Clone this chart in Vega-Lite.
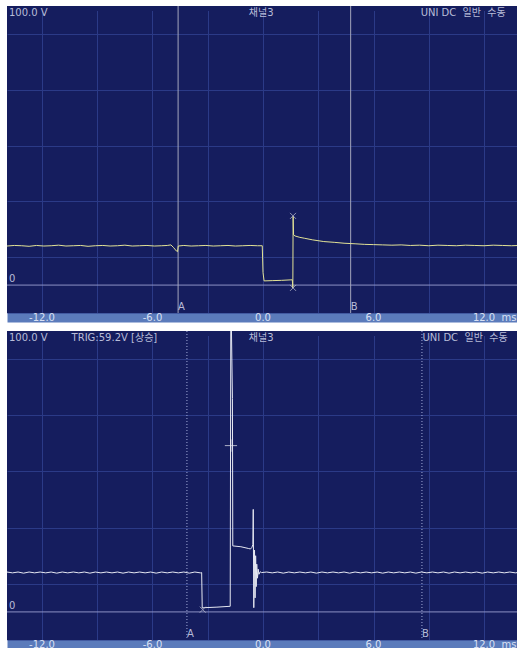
{
  "$schema": "https://vega.github.io/schema/vega-lite/v6.json",
  "padding": {"left": 6, "top": 5, "right": 0, "bottom": 0},
  "spacing": 7,
  "background": "#ffffff",
  "config": {
    "view": {"fill": "#151d5e", "stroke": null},
    "axisX": {"orient": "bottom", "grid": true, "gridColor": "#2b3a87", "gridWidth": 1,
      "ticks": false, "tickSize": 0, "domain": true, "domainColor": "#5b7bbb", "domainWidth": 9, "offset": 4.5,
      "labels": false, "minExtent": 0},
    "axisY": {"grid": true, "gridColor": "#2b3a87", "gridWidth": 1, "labels": false, "ticks": false, "domain": false, "minExtent": 0},
    "text": {"font": "DejaVu Sans, Noto Sans CJK KR", "fontSize": 10}
  },
  "datasets": {
    "sig1": [
      {"t": -13.9, "v": 14.0}, {"t": -13.5, "v": 14.2}, {"t": -13.1, "v": 14.1}, {"t": -12.7, "v": 13.9},
      {"t": -12.3, "v": 14.2}, {"t": -11.9, "v": 14.0}, {"t": -11.5, "v": 14.1}, {"t": -11.1, "v": 14.3},
      {"t": -10.7, "v": 14.0}, {"t": -10.3, "v": 14.1}, {"t": -9.9, "v": 14.2}, {"t": -9.5, "v": 13.9},
      {"t": -9.1, "v": 14.1}, {"t": -8.7, "v": 14.2}, {"t": -8.3, "v": 14.0}, {"t": -7.9, "v": 14.1},
      {"t": -7.5, "v": 14.3}, {"t": -7.1, "v": 14.0}, {"t": -6.7, "v": 14.1}, {"t": -6.3, "v": 14.2},
      {"t": -5.9, "v": 14.0}, {"t": -5.5, "v": 14.1}, {"t": -5.2, "v": 14.2}, {"t": -5.0, "v": 14.4},
      {"t": -4.85, "v": 13.4}, {"t": -4.7, "v": 12.2}, {"t": -4.64, "v": 12.0}, {"t": -4.6, "v": 14.0},
      {"t": -4.3, "v": 14.2}, {"t": -3.9, "v": 14.0}, {"t": -3.5, "v": 14.1}, {"t": -3.1, "v": 14.2},
      {"t": -2.7, "v": 14.0}, {"t": -2.3, "v": 14.1}, {"t": -1.9, "v": 14.2}, {"t": -1.5, "v": 14.0},
      {"t": -1.1, "v": 14.1}, {"t": -0.7, "v": 14.2}, {"t": -0.3, "v": 14.1}, {"t": -0.04, "v": 14.1},
      {"t": 0.0, "v": 4.5}, {"t": 0.06, "v": 1.5}, {"t": 0.5, "v": 1.6}, {"t": 1.0, "v": 1.7},
      {"t": 1.59, "v": 1.9}, {"t": 1.62, "v": -1.0}, {"t": 1.635, "v": 24.6}, {"t": 1.66, "v": 18.0},
      {"t": 1.74, "v": 17.6}, {"t": 2.0, "v": 17.1}, {"t": 2.24, "v": 16.8}, {"t": 2.7, "v": 16.2},
      {"t": 3.3, "v": 15.6}, {"t": 3.9, "v": 15.3}, {"t": 4.4, "v": 15.0}, {"t": 5.0, "v": 14.8},
      {"t": 5.5, "v": 14.6}, {"t": 6.0, "v": 14.5}, {"t": 6.5, "v": 14.4}, {"t": 7.0, "v": 14.3},
      {"t": 7.5, "v": 14.4}, {"t": 8.0, "v": 14.2}, {"t": 8.5, "v": 14.3}, {"t": 9.0, "v": 14.1},
      {"t": 9.5, "v": 14.3}, {"t": 10.0, "v": 14.2}, {"t": 10.5, "v": 14.1}, {"t": 11.0, "v": 14.3},
      {"t": 11.5, "v": 14.2}, {"t": 12.0, "v": 14.1}, {"t": 12.5, "v": 14.3}, {"t": 13.0, "v": 14.2},
      {"t": 13.5, "v": 14.1}, {"t": 13.9, "v": 14.2}
    ],
    "sig2": [
      {"t": -13.9, "v": 14.2}, {"t": -13.6, "v": 13.9}, {"t": -13.3, "v": 14.2}, {"t": -13.0, "v": 13.8},
      {"t": -12.7, "v": 14.2}, {"t": -12.4, "v": 13.9}, {"t": -12.1, "v": 14.2}, {"t": -11.8, "v": 13.9},
      {"t": -11.5, "v": 14.2}, {"t": -11.2, "v": 13.8}, {"t": -10.9, "v": 14.2}, {"t": -10.6, "v": 13.9},
      {"t": -10.3, "v": 14.2}, {"t": -10.0, "v": 13.9}, {"t": -9.7, "v": 14.2}, {"t": -9.4, "v": 13.8},
      {"t": -9.1, "v": 14.2}, {"t": -8.8, "v": 13.9}, {"t": -8.5, "v": 14.2}, {"t": -8.2, "v": 13.9},
      {"t": -7.9, "v": 14.2}, {"t": -7.6, "v": 13.8}, {"t": -7.3, "v": 14.2}, {"t": -7.0, "v": 13.9},
      {"t": -6.7, "v": 14.2}, {"t": -6.4, "v": 13.9}, {"t": -6.1, "v": 14.2}, {"t": -5.8, "v": 13.8},
      {"t": -5.5, "v": 14.2}, {"t": -5.2, "v": 13.9}, {"t": -4.9, "v": 14.2}, {"t": -4.6, "v": 13.9},
      {"t": -4.3, "v": 14.2}, {"t": -4.0, "v": 13.8}, {"t": -3.7, "v": 14.2}, {"t": -3.4, "v": 13.9},
      {"t": -3.33, "v": 14.0}, {"t": -3.3, "v": 1.4}, {"t": -3.2, "v": 1.5}, {"t": -2.5, "v": 1.7},
      {"t": -1.78, "v": 2.0}, {"t": -1.745, "v": 115}, {"t": -1.66, "v": 76}, {"t": -1.64, "v": 23.5},
      {"t": -1.2, "v": 23.2}, {"t": -0.8, "v": 22.6}, {"t": -0.68, "v": 22.4}, {"t": -0.6, "v": 23.0},
      {"t": -0.55, "v": 24.0}, {"t": -0.53, "v": 36.5}, {"t": -0.5, "v": 1.5}, {"t": -0.46, "v": 22.0},
      {"t": -0.43, "v": 5.0}, {"t": -0.4, "v": 20.0}, {"t": -0.37, "v": 9.0}, {"t": -0.34, "v": 17.0},
      {"t": -0.3, "v": 12.0}, {"t": -0.26, "v": 15.2}, {"t": -0.22, "v": 13.4}, {"t": -0.15, "v": 14.3},
      {"t": -0.08, "v": 14.0}, {"t": 0.2, "v": 14.2}, {"t": 0.5, "v": 13.9}, {"t": 0.8, "v": 14.2},
      {"t": 1.1, "v": 13.8}, {"t": 1.4, "v": 14.2}, {"t": 1.7, "v": 13.9}, {"t": 2.0, "v": 14.2},
      {"t": 2.3, "v": 13.9}, {"t": 2.6, "v": 14.2}, {"t": 2.9, "v": 13.8}, {"t": 3.2, "v": 14.2},
      {"t": 3.5, "v": 13.9}, {"t": 3.8, "v": 14.2}, {"t": 4.1, "v": 13.9}, {"t": 4.4, "v": 14.2},
      {"t": 4.7, "v": 13.8}, {"t": 5.0, "v": 14.2}, {"t": 5.3, "v": 13.9}, {"t": 5.6, "v": 14.2},
      {"t": 5.9, "v": 13.9}, {"t": 6.2, "v": 14.2}, {"t": 6.5, "v": 13.8}, {"t": 6.8, "v": 14.2},
      {"t": 7.1, "v": 13.9}, {"t": 7.4, "v": 14.2}, {"t": 7.7, "v": 13.9}, {"t": 8.0, "v": 14.2},
      {"t": 8.3, "v": 13.8}, {"t": 8.6, "v": 14.2}, {"t": 8.9, "v": 13.9}, {"t": 9.2, "v": 14.2},
      {"t": 9.5, "v": 13.9}, {"t": 9.8, "v": 14.2}, {"t": 10.1, "v": 13.8}, {"t": 10.4, "v": 14.2},
      {"t": 10.7, "v": 13.9}, {"t": 11.0, "v": 14.2}, {"t": 11.3, "v": 13.9}, {"t": 11.6, "v": 14.2},
      {"t": 11.9, "v": 13.8}, {"t": 12.2, "v": 14.2}, {"t": 12.5, "v": 13.9}, {"t": 12.8, "v": 14.2},
      {"t": 13.1, "v": 13.9}, {"t": 13.4, "v": 14.2}, {"t": 13.7, "v": 13.9}, {"t": 13.9, "v": 14.1}
    ],
    "cur1": [{"t": -4.61, "label": "A"}, {"t": 4.76, "label": "B"}],
    "cur2": [{"t": -4.13, "label": "A"}, {"t": 8.63, "label": "B"}],
    "mark1": [{"t": 1.63, "v": 24.8}, {"t": 1.63, "v": -1.0}],
    "mark2": [{"t": -3.27, "v": 0.8}],
    "cross2": [{"t": -1.74, "v": 59.2}],
    "zero": [{"t": -13.9, "v": 0, "label": "0"}],
    "xlab": [
      {"t": -12, "v": -10, "label": "-12.0"}, {"t": -6, "v": -10, "label": "-6.0"}, {"t": 0, "v": -10, "label": "0.0"},
      {"t": 6, "v": -10, "label": "6.0"}, {"t": 12, "v": -10, "label": "12.0"}
    ],
    "unit": [{"t": 12.95, "v": -10, "label": "ms"}],
    "txt1": [
      {"t": -13.9, "v": 100, "label": "100.0 V"},
      {"t": 8.45, "v": 100, "label": "UNI DC \u00a0일반 \u00a0수동"}
    ],
    "txt2": [
      {"t": -13.9, "v": 100, "label": "100.0 V"},
      {"t": -10.5, "v": 100, "label": "TRIG:59.2V [상승]"},
      {"t": 8.55, "v": 100, "label": "UNI DC \u00a0일반 \u00a0수동"}
    ],
    "ctr": [{"t": -0.1, "v": 100, "label": "채널3"}]
  },
  "vconcat": [
    {
      "width": 512,
      "height": 307,
      "layer": [
        {
          "data": {"name": "zero"},
          "mark": {"type": "rule", "color": "#8c92c4", "strokeWidth": 1},
          "encoding": {"y": {"field": "v", "type": "quantitative", "title": null, "scale": {"domain": [-10, 100], "nice": false, "zero": false}}}
        },
        {
          "data": {"name": "cur1"},
          "mark": {"type": "rule", "color": "#a4a6bc", "strokeWidth": 1},
          "encoding": {"x": {"field": "t", "type": "quantitative", "title": null, "scale": {"domain": [-13.9, 13.9], "nice": false, "zero": false}}}
        },
        {
          "data": {"name": "sig1"},
          "mark": {"type": "line", "color": "#e2e296", "strokeWidth": 1, "clip": true},
          "encoding": {
            "x": {"field": "t", "type": "quantitative", "sort": null, "title": null, "scale": {"domain": [-13.9, 13.9], "nice": false, "zero": false},
              "axis": {"values": [-12, -9, -6, -3, 0, 3, 6, 9, 12]}},
            "y": {"field": "v", "type": "quantitative", "title": null, "scale": {"domain": [-10, 100], "nice": false, "zero": false},
              "axis": {"values": [-10, 0, 10, 20, 30, 40, 50, 60, 70, 80, 90, 100]}}
          }
        },
        {
          "data": {"name": "mark1"},
          "mark": {"type": "point", "shape": "M-1,-1L1,1M-1,1L1,-1", "filled": false, "color": "#c8cad8", "strokeWidth": 1, "size": 36},
          "encoding": {
            "x": {"field": "t", "type": "quantitative", "title": null},
            "y": {"field": "v", "type": "quantitative", "title": null}
          }
        },
        {
          "data": {"name": "cur1"},
          "mark": {"type": "text", "align": "left", "baseline": "bottom", "dy": -1, "color": "#b8bcd8"},
          "encoding": {
            "x": {"field": "t", "type": "quantitative", "title": null},
            "y": {"datum": -10, "type": "quantitative", "title": null},
            "text": {"field": "label"}
          }
        },
        {
          "data": {"name": "zero"},
          "mark": {"type": "text", "align": "left", "baseline": "bottom", "dx": 2, "dy": -1, "color": "#b8bcd8"},
          "encoding": {
            "x": {"field": "t", "type": "quantitative", "title": null},
            "y": {"field": "v", "type": "quantitative", "title": null},
            "text": {"field": "label"}
          }
        },
        {
          "data": {"name": "xlab"},
          "mark": {"type": "text", "align": "center", "baseline": "middle", "dy": 4.5, "color": "#d8e0f4", "clip": false},
          "encoding": {
            "x": {"field": "t", "type": "quantitative", "title": null},
            "y": {"field": "v", "type": "quantitative", "title": null},
            "text": {"field": "label"}
          }
        },
        {
          "data": {"name": "unit"},
          "mark": {"type": "text", "align": "left", "baseline": "middle", "dy": 4.5, "color": "#d8e0f4", "clip": false},
          "encoding": {
            "x": {"field": "t", "type": "quantitative", "title": null},
            "y": {"field": "v", "type": "quantitative", "title": null},
            "text": {"field": "label"}
          }
        },
        {
          "data": {"name": "txt1"},
          "mark": {"type": "text", "align": "left", "baseline": "top", "dx": 2, "dy": 2, "color": "#b8bcd8"},
          "encoding": {
            "x": {"field": "t", "type": "quantitative", "title": null},
            "y": {"field": "v", "type": "quantitative", "title": null},
            "text": {"field": "label"}
          }
        },
        {
          "data": {"name": "ctr"},
          "mark": {"type": "text", "align": "center", "baseline": "top", "dy": 2, "color": "#b8bcd8"},
          "encoding": {
            "x": {"field": "t", "type": "quantitative", "title": null},
            "y": {"field": "v", "type": "quantitative", "title": null},
            "text": {"field": "label"}
          }
        }
      ]
    },
    {
      "width": 512,
      "height": 309,
      "layer": [
        {
          "data": {"name": "zero"},
          "mark": {"type": "rule", "color": "#8c92c4", "strokeWidth": 1},
          "encoding": {"y": {"field": "v", "type": "quantitative", "title": null, "scale": {"domain": [-10, 100], "nice": false, "zero": false}}}
        },
        {
          "data": {"name": "cur2"},
          "mark": {"type": "rule", "color": "#a2aad8", "strokeWidth": 1, "strokeDash": [1, 2]},
          "encoding": {"x": {"field": "t", "type": "quantitative", "title": null, "scale": {"domain": [-13.9, 13.9], "nice": false, "zero": false}}}
        },
        {
          "data": {"name": "sig2"},
          "mark": {"type": "line", "color": "#e6e8f2", "strokeWidth": 1, "clip": true},
          "encoding": {
            "x": {"field": "t", "type": "quantitative", "sort": null, "title": null, "scale": {"domain": [-13.9, 13.9], "nice": false, "zero": false},
              "axis": {"values": [-12, -9, -6, -3, 0, 3, 6, 9, 12]}},
            "y": {"field": "v", "type": "quantitative", "title": null, "scale": {"domain": [-10, 100], "nice": false, "zero": false},
              "axis": {"values": [-10, 0, 10, 20, 30, 40, 50, 60, 70, 80, 90, 100]}}
          }
        },
        {
          "data": {"name": "mark2"},
          "mark": {"type": "point", "shape": "M-1,-1L1,1M-1,1L1,-1", "filled": false, "color": "#c8cad8", "strokeWidth": 1, "size": 36},
          "encoding": {
            "x": {"field": "t", "type": "quantitative", "title": null},
            "y": {"field": "v", "type": "quantitative", "title": null}
          }
        },
        {
          "data": {"name": "cross2"},
          "mark": {"type": "point", "shape": "M-1,0L1,0M0,-1L0,1", "filled": false, "color": "#f0f0f6", "strokeWidth": 1, "size": 150},
          "encoding": {
            "x": {"field": "t", "type": "quantitative", "title": null},
            "y": {"field": "v", "type": "quantitative", "title": null}
          }
        },
        {
          "data": {"name": "cur2"},
          "mark": {"type": "text", "align": "left", "baseline": "bottom", "dy": -1, "color": "#b8bcd8"},
          "encoding": {
            "x": {"field": "t", "type": "quantitative", "title": null},
            "y": {"datum": -10, "type": "quantitative", "title": null},
            "text": {"field": "label"}
          }
        },
        {
          "data": {"name": "zero"},
          "mark": {"type": "text", "align": "left", "baseline": "bottom", "dx": 2, "dy": -1, "color": "#b8bcd8"},
          "encoding": {
            "x": {"field": "t", "type": "quantitative", "title": null},
            "y": {"field": "v", "type": "quantitative", "title": null},
            "text": {"field": "label"}
          }
        },
        {
          "data": {"name": "xlab"},
          "mark": {"type": "text", "align": "center", "baseline": "middle", "dy": 4.5, "color": "#d8e0f4", "clip": false},
          "encoding": {
            "x": {"field": "t", "type": "quantitative", "title": null},
            "y": {"field": "v", "type": "quantitative", "title": null},
            "text": {"field": "label"}
          }
        },
        {
          "data": {"name": "unit"},
          "mark": {"type": "text", "align": "left", "baseline": "middle", "dy": 4.5, "color": "#d8e0f4", "clip": false},
          "encoding": {
            "x": {"field": "t", "type": "quantitative", "title": null},
            "y": {"field": "v", "type": "quantitative", "title": null},
            "text": {"field": "label"}
          }
        },
        {
          "data": {"name": "txt2"},
          "mark": {"type": "text", "align": "left", "baseline": "top", "dx": 2, "dy": 2, "color": "#b8bcd8"},
          "encoding": {
            "x": {"field": "t", "type": "quantitative", "title": null},
            "y": {"field": "v", "type": "quantitative", "title": null},
            "text": {"field": "label"}
          }
        },
        {
          "data": {"name": "ctr"},
          "mark": {"type": "text", "align": "center", "baseline": "top", "dy": 2, "color": "#b8bcd8"},
          "encoding": {
            "x": {"field": "t", "type": "quantitative", "title": null},
            "y": {"field": "v", "type": "quantitative", "title": null},
            "text": {"field": "label"}
          }
        }
      ]
    }
  ]
}
